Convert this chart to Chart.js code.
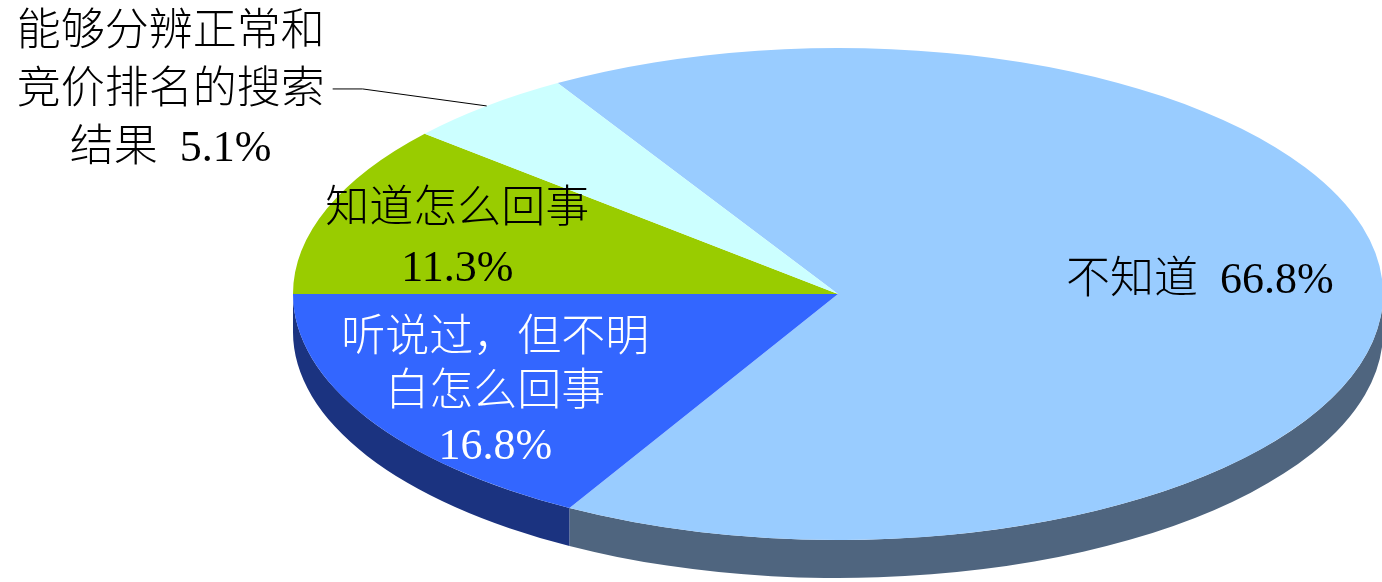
<!DOCTYPE html>
<html>
<head>
<meta charset="utf-8">
<script src="https://cdn.jsdelivr.net/npm/chart.js@4/dist/chart.umd.min.js"></script>
<style>
  html, body { margin: 0; padding: 0; background: #ffffff; overflow: hidden; }
  canvas { display: block; }
</style>
</head>
<body>
<canvas id="chart" width="1382" height="582"></canvas>
<script>
// Survey answers and their shares (%)
const categories = ['不知道', '听说过，但不明白怎么回事', '知道怎么回事', '能够分辨正常和竞价排名的搜索结果'];
const shares = [66.8, 16.8, 11.3, 5.1];

// How each category name is broken over lines in its label
const nameLines = [
  ['不知道'],
  ['听说过，但不明', '白怎么回事'],
  ['知道怎么回事'],
  ['能够分辨正常和', '竞价排名的搜索', '结果']
];
const valueOnOwnLine = [false, true, true, false];

// Colours of the top faces and of the visible rim
const faceColors = ['#99CCFF', '#3366FF', '#99CC00', '#CCFFFF'];
const sideColors = ['#4F657F', '#1B3380', '#5C7A00', '#7A9999'];
const textColors = ['#000000', '#ffffff', '#000000', '#000000'];

// Label placement inside the slices (fraction of radius, vertical nudge)
const labelFrac = [0.664, 0.728, 0.745, null];
const labelShiftY = [-11, 9, 10, 0];
const lineHeights = [58, 54, 59, 58];

const stretchX = 545 / 246;   // ellipse: horizontal radius / vertical radius
const depth = 38;             // rim thickness in px
const FONT = '300 44px "Liberation Serif", "Noto Sans CJK SC", sans-serif';

function labelText(i) {
  const lines = nameLines[i].slice();
  const v = shares[i].toFixed(1) + '%';
  if (valueOnOwnLine[i]) lines.push(v);
  else lines[lines.length - 1] = lines[lines.length - 1] + '  ' + v;
  return lines;
}

function drawLines(ctx, lines, cx, cy, lh, color) {
  ctx.fillStyle = color;
  const top = cy - (lines.length - 1) * lh / 2;
  lines.forEach((t, k) => ctx.fillText(t, cx, top + k * lh));
}

const pie3d = {
  id: 'pie3d',
  beforeDatasetsDraw(chart) {
    const ctx = chart.ctx;
    const arcs = chart.getDatasetMeta(0).data;
    if (!arcs.length) return;
    const { x, y } = arcs[0].getProps(['x', 'y'], true);
    ctx.save();
    ctx.translate(x, y);
    ctx.scale(stretchX, 1);
    ctx.translate(-x, -y);
    // rim: the lower (front) half of each slice, extruded downward
    arcs.forEach((arc, i) => {
      const p = arc.getProps(['startAngle', 'endAngle', 'outerRadius'], true);
      for (let k = -1; k <= 2; k++) {
        const lo = Math.max(p.startAngle, 2 * Math.PI * k);
        const hi = Math.min(p.endAngle, 2 * Math.PI * k + Math.PI);
        if (hi > lo) {
          ctx.beginPath();
          ctx.arc(x, y, p.outerRadius, lo, hi);
          ctx.arc(x, y + depth, p.outerRadius, hi, lo, true);
          ctx.closePath();
          ctx.fillStyle = sideColors[i];
          ctx.fill();
        }
      }
    });
  },
  afterDatasetsDraw(chart) {
    const ctx = chart.ctx;
    ctx.restore();
    const arcs = chart.getDatasetMeta(0).data;
    ctx.save();
    ctx.font = FONT;
    ctx.textAlign = 'center';
    ctx.textBaseline = 'middle';
    arcs.forEach((arc, i) => {
      const p = arc.getProps(['x', 'y', 'startAngle', 'endAngle', 'outerRadius'], true);
      const mid = (p.startAngle + p.endAngle) / 2;
      const lines = labelText(i);
      if (labelFrac[i] !== null) {
        const f = labelFrac[i];
        const lx = p.x + stretchX * p.outerRadius * f * Math.cos(mid);
        const ly = p.y + p.outerRadius * f * Math.sin(mid) + labelShiftY[i];
        drawLines(ctx, lines, lx, ly, lineHeights[i], textColors[i]);
      } else {
        // outside label with a leader line
        const ex = p.x + stretchX * p.outerRadius * Math.cos(mid);
        const ey = p.y + p.outerRadius * Math.sin(mid);
        ctx.beginPath();
        ctx.moveTo(ex, ey);
        ctx.lineTo(ex - 124, ey - 17);
        ctx.lineTo(ex - 154, ey - 17);
        ctx.strokeStyle = '#000000';
        ctx.lineWidth = 1;
        ctx.stroke();
        drawLines(ctx, lines, ex - 316, ey - 15, lineHeights[i], textColors[i]);
      }
    });
    ctx.restore();
  }
};

// start the "知道怎么回事" slice at the left (9 o'clock) going clockwise
const rotation = 270 + 3.6 * (shares[2] + shares[3]);

new Chart(document.getElementById('chart'), {
  type: 'pie',
  data: {
    labels: categories,
    datasets: [{
      data: shares,
      backgroundColor: faceColors,
      borderWidth: 0,
      offset: 0,
      hoverOffset: 0,
      clip: false
    }]
  },
  options: {
    responsive: false,
    animation: false,
    devicePixelRatio: 1,
    rotation: rotation,
    layout: { padding: { left: 294, right: 0, top: 48, bottom: 42 } },
    events: [],
    plugins: {
      legend: { display: false },
      tooltip: { enabled: false },
      title: { display: false }
    }
  },
  plugins: [pie3d]
});
</script>
</body>
</html>
